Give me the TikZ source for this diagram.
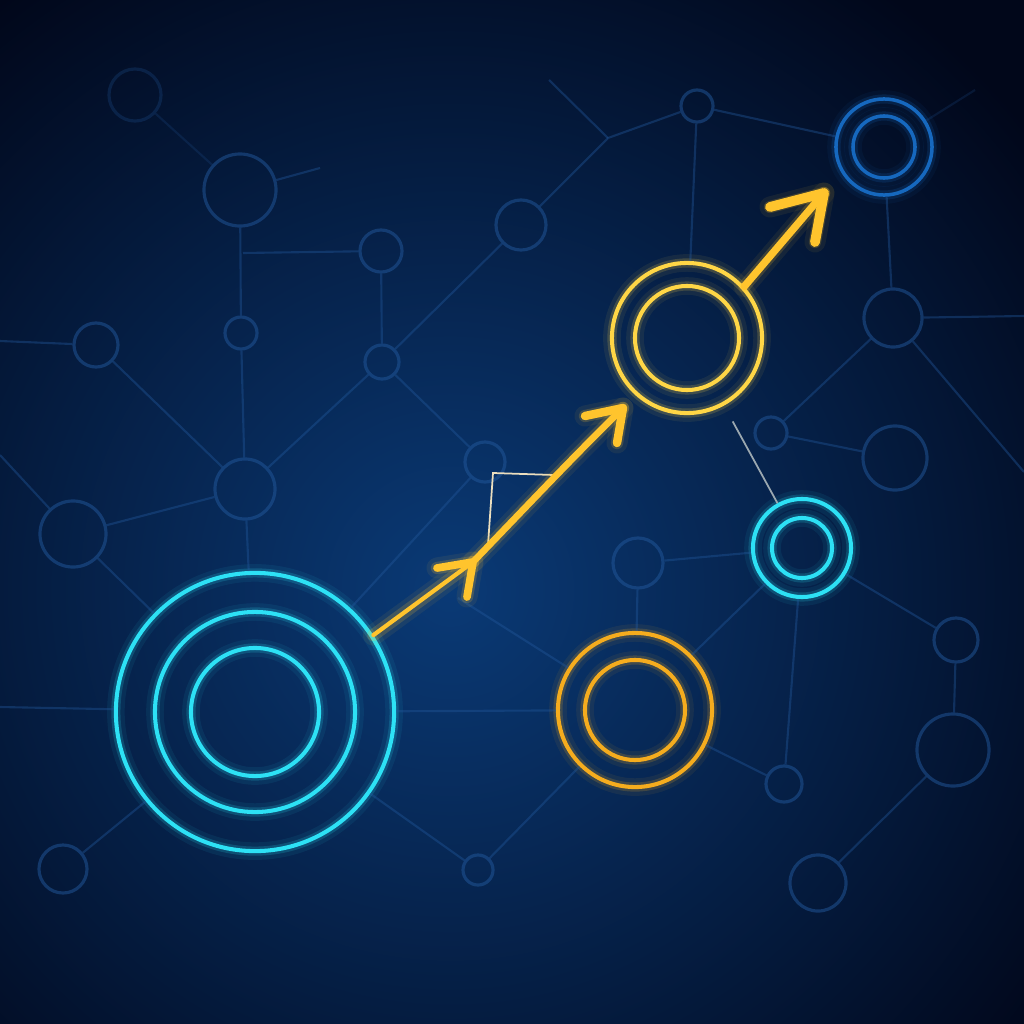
\documentclass[tikz,border=0pt]{standalone}
\usepackage{xcolor}
\usetikzlibrary{positioning,calc}
\definecolor{bgin}{RGB}{10,58,118}
\definecolor{bgout}{RGB}{1,7,26}
\definecolor{netblue}{RGB}{34,88,156}
\definecolor{glowcyan}{RGB}{45,225,245}
\definecolor{glowgold}{RGB}{255,214,70}
\definecolor{glowamber}{RGB}{245,172,30}
\definecolor{ringblue}{RGB}{22,104,190}
\definecolor{arrowgold}{RGB}{255,196,45}
\definecolor{pale}{RGB}{235,222,190}
\tikzset{
  dimnode/.style={circle,draw=netblue,draw opacity=0.5,line width=0.9pt,inner sep=0pt,minimum size=#1*0.02cm},
  dimedge/.style={draw=netblue,draw opacity=0.4,line width=0.6pt},
  glowring/.style={draw=#1,line width=1.15pt,
    preaction={draw=#1,line width=5pt,draw opacity=0.07},
    preaction={draw=#1,line width=2.6pt,draw opacity=0.18}},
  ringnode/.style={circle,inner sep=0pt,minimum size=#1*0.02cm},
  arrowglow/.style={draw=arrowgold,line width=#1,line cap=round,line join=round,
    preaction={draw=arrowgold,line width=6pt,draw opacity=0.07,line cap=round},
    preaction={draw=arrowgold,line width=3.5pt,draw opacity=0.18,line cap=round}},
  paleline/.style={draw=pale,line width=0.5pt}
}
\begin{document}
\begin{tikzpicture}[x=0.01cm,y=-0.01cm]
	\useasboundingbox (0,0) rectangle (1024,1024);
	\begin{scope}
		\clip (0,0) rectangle (1024,1024);
		\fill[bgout] (0,0) rectangle (1024,1024);
		\shade[inner color=bgin,outer color=bgout] (450,590) circle[radius=7.4cm];
	\end{scope}
	% faint network
	\node[dimnode=26,draw opacity=0.25] (n1) at (135,95) {};
	\node[dimnode=36] (n2) at (240,190) {};
	\node[dimnode=21] (n3) at (381,251) {};
	\node[dimnode=16] (n4) at (241,333) {};
	\node[dimnode=22] (n5) at (96,345) {};
	\node[dimnode=17] (n6) at (382,362) {};
	\node[dimnode=25] (n7) at (521,225) {};
	\node[dimnode=30] (n8) at (245,489) {};
	\node[dimnode=20] (n9) at (485,462) {};
	\node[dimnode=16] (n10) at (697,106) {};
	\node[dimnode=29] (n11) at (893,318) {};
	\node[dimnode=16] (n12) at (771,433) {};
	\node[dimnode=32] (n13) at (895,458) {};
	\node[dimnode=25] (n14) at (638,563) {};
	\node[dimnode=22] (n15) at (956,640) {};
	\node[dimnode=36] (n16) at (953,750) {};
	\node[dimnode=18] (n17) at (784,784) {};
	\node[dimnode=28] (n18) at (818,883) {};
	\node[dimnode=33] (n19) at (73,534) {};
	\node[dimnode=15] (n20) at (478,870) {};
	\node[dimnode=24] (n21) at (63,869) {};
	% bright rings
	\node[ringnode=139,glowring=glowcyan] (cb) at (255,712) {};
	\draw[glowring=glowcyan] (cb.center) circle[radius=1.00cm];
	\draw[glowring=glowcyan] (cb.center) circle[radius=0.64cm];
	\node[ringnode=75,glowring=glowgold] (gy) at (687,338) {};
	\draw[glowring=glowgold] (gy.center) circle[radius=0.52cm];
	\node[ringnode=48,glowring=ringblue,line width=1pt] (bt) at (884,147) {};
	\draw[glowring=ringblue,line width=1pt] (bt.center) circle[radius=0.31cm];
	\node[ringnode=49,glowring=glowcyan] (cs) at (802,548) {};
	\draw[glowring=glowcyan] (cs.center) circle[radius=0.30cm];
	\node[ringnode=77,glowring=glowamber] (go) at (635,710) {};
	\draw[glowring=glowamber] (go.center) circle[radius=0.50cm];
	% loose ends
	\coordinate (j1) at (243,253);
	\coordinate (j2) at (608,138);
	\coordinate (f1) at (320,168);
	\coordinate (f2) at (458,598);
	\coordinate (f3) at (549,80);
	\coordinate (f4) at (975,90);
	\coordinate (l1) at (0,341);
	\coordinate (l2) at (0,455);
	\coordinate (l3) at (0,707);
	\coordinate (r1) at (1024,316);
	\coordinate (r2) at (1024,472);
	\draw[dimedge,draw opacity=0.2] (n1)--(n2);
	\draw[dimedge] (n2)--(n4);
	\draw[dimedge] (j1)--(n3);
	\draw[dimedge] (n2)--(f1);
	\draw[dimedge] (n3)--(n6);
	\draw[dimedge] (n6)--(n7);
	\draw[dimedge] (n6)--(n9);
	\draw[dimedge] (n4)--(n8);
	\draw[dimedge] (n5)--(n8);
	\draw[dimedge] (l1)--(n5);
	\draw[dimedge] (n6)--(n8);
	\draw[dimedge] (n8)--(n19);
	\draw[dimedge] (l2)--(n19);
	\draw[dimedge] (n9)--(cb);
	\draw[dimedge] (f2)--(go);
	\draw[dimedge] (n14)--(cs);
	\draw[dimedge] (n14)--(go);
	\draw[dimedge] (cs)--(go);
	\draw[dimedge] (cs)--(n17);
	\draw[dimedge] (cs)--(n15);
	\draw[dimedge] (n15)--(n16);
	\draw[dimedge] (n16)--(n18);
	\draw[dimedge] (go)--(n17);
	\draw[dimedge] (cb)--(go);
	\draw[dimedge] (go)--(n20);
	\draw[dimedge] (cb)--(n20);
	\draw[dimedge] (cb)--(n21);
	\draw[dimedge] (l3)--(cb);
	\draw[dimedge] (n19)--(cb);
	\draw[dimedge] (n8)--(cb);
	\draw[dimedge] (n7)--(j2)--(n10);
	\draw[dimedge] (j2)--(f3);
	\draw[dimedge] (n10)--(bt);
	\draw[dimedge] (n10)--(gy);
	\draw[dimedge] (bt)--(n11);
	\draw[dimedge,draw opacity=0.2] (bt)--(f4);
	\draw[dimedge] (n11)--(r1);
	\draw[dimedge] (n11)--(n12);
	\draw[dimedge] (n11)--(r2);
	\draw[dimedge] (n12)--(n13);
	% thin pale strokes
	\draw[paleline,draw=pale!60!netblue,shorten <=0.18cm] (gy)--(cs);
	\coordinate (b1) at (554,475);
	\coordinate (b2) at (493,473);
	\coordinate (b3) at (488,545);
	\draw[paleline] (b1)--(b2)--(b3);
	% rising arrows
	\coordinate (h1) at (473,562);
	\coordinate (h2) at (623,408);
	\coordinate (h3) at (824,193);
	\draw[arrowglow=1.2pt] (cb.33)--(h1);
	\draw[arrowglow=2.2pt] (h1) -- ++(-36,6) (h1) -- ++(-6,35);
	\draw[arrowglow=1.9pt] (h1) .. controls (525,508) and (575,455) .. (h2);
	\draw[arrowglow=2.4pt] (h2) -- ++(-38,8) (h2) -- ++(-6,35);
	\draw[arrowglow=2.1pt] (gy.42)--(h3);
	\draw[arrowglow=2.8pt] (h3) -- ++(-54,14) (h3) -- ++(-9,49);
\end{tikzpicture}
\end{document}
